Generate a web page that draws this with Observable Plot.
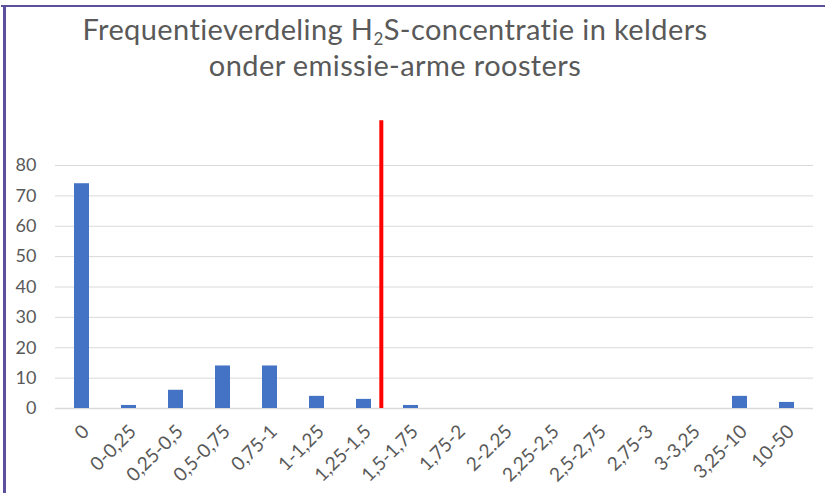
<!DOCTYPE html>
<html>
<head>
<meta charset="utf-8">
<script src="https://cdn.jsdelivr.net/npm/d3@7"></script>
<script src="https://cdn.jsdelivr.net/npm/@observablehq/plot@0.6"></script>
<style>
  html, body { margin: 0; padding: 0; background: #fff; }
  #frame { position: relative; width: 825px; height: 493px; overflow: hidden; }
  #border-top { position: absolute; left: 1px; top: 5px; width: 824px; height: 2px; background: #5b4f9e; }
  #border-left { position: absolute; left: 3px; top: 5px; width: 3px; height: 488px; background: #5b4f9e; }
  #title { position: absolute; left: 0; top: 11px; width: 790px; text-align: center;
           font-family: Lato, sans-serif; font-size: 29px; letter-spacing: 0.4px; line-height: 36px; color: #595959; }
  #title sub { font-size: 17px; vertical-align: -5px; line-height: 0; }
  #chart { position: absolute; left: 0; top: 100px; }
  #chart text { font-family: Lato, sans-serif; }
</style>
</head>
<body>
<div id="frame">
  <div id="border-top"></div>
  <div id="border-left"></div>
  <div id="title">Frequentieverdeling H<sub>2</sub>S-concentratie in kelders<br>onder emissie-arme roosters</div>
  <div id="chart"></div>
</div>
<script>
const categories = ["0", "0-0,25", "0,25-0,5", "0,5-0,75", "0,75-1", "1-1,25", "1,25-1,5", "1,5-1,75",
  "1,75-2", "2-2.25", "2,25-2,5", "2,5-2,75", "2,75-3", "3-3,25", "3,25-10", "10-50"];
const counts = [74, 1, 6, 14, 14, 4, 3, 1, 0, 0, 0, 0, 0, 0, 4, 2];
const yTicks = [0, 10, 20, 30, 40, 50, 60, 70, 80];
const thresholdCategory = ["1,5-1,75"];
const thresholdTop = [94.7];

const data = categories.map((c, i) => ({category: c, count: counts[i]}));

const W = 825, H = 393, mL = 55, mR = 12, mT = 65, mB = 85;
const step = (W - mL - mR) / categories.length;

const chart = Plot.plot({
  width: W,
  height: H,
  marginLeft: mL,
  marginRight: mR,
  marginTop: mT,
  marginBottom: mB,
  style: {background: "transparent", color: "#595959", fontSize: "18px"},
  x: {domain: categories, paddingInner: 0.68, paddingOuter: 0.34, label: null},
  y: {domain: [0, 80], label: null},
  marks: [
    Plot.gridY(yTicks.filter(d => d > 0), {stroke: "#d9d9d9", strokeOpacity: 1}),
    Plot.ruleY([0], {stroke: "#d9d9d9", strokeWidth: 1.5}),
    Plot.axisY(yTicks, {tickSize: 0, tickPadding: 19, fontSize: 18, fill: "#595959", label: null}),
    Plot.axisX({tickSize: 0, tickRotate: -45, tickPadding: 20, dx: 4, fontSize: 19, fill: "#595959", label: null}),
    Plot.barY(data, {x: "category", y: "count", fill: "#4472c4"}),
    Plot.ruleX(thresholdCategory, {x: d => d, y1: 0, y2: thresholdTop[0], stroke: "#ff0000", strokeWidth: 4, dx: -step / 2 - 6})
  ]
});
document.getElementById("chart").appendChild(chart);
</script>
</body>
</html>
